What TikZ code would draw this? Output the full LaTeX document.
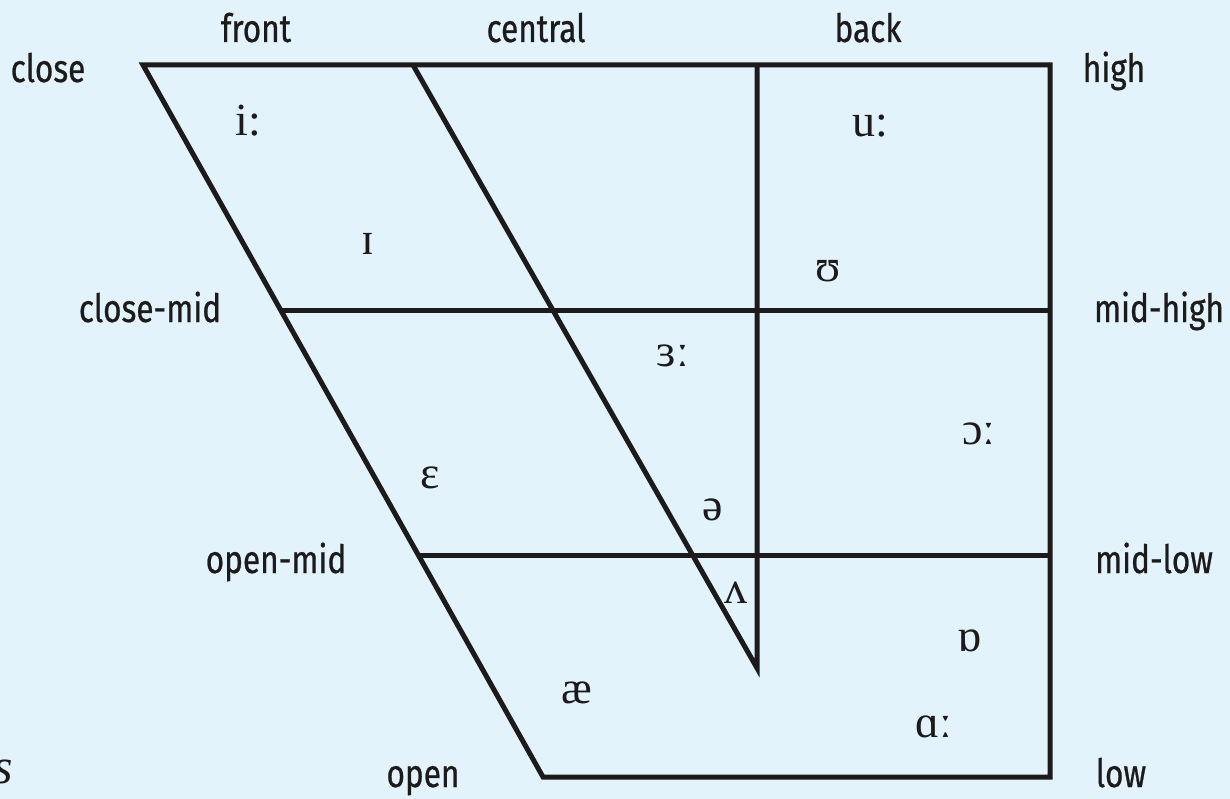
\documentclass[tikz,border=0pt]{standalone}
\usepackage{fontspec}
\setmainfont{Liberation Serif}
\newfontfamily\labfont[FakeStretch=0.81,FakeBold=0.6]{Fira Sans}
\newfontfamily\ipafont{Liberation Serif}
\definecolor{bgblue}{HTML}{E2F3FC}
\definecolor{inkc}{HTML}{1C1A1A}
\begin{document}
\begin{tikzpicture}[x=1pt,y=-1pt,
  chart/.style={draw=inkc,line width=5pt,line cap=butt,line join=miter},
  lab/.style={font=\labfont\fontsize{39}{44}\selectfont,text=inkc,inner sep=0pt,anchor=base},
  vow/.style={font=\ipafont\fontsize{46}{50}\selectfont,text=inkc,inner sep=0pt,anchor=base}]
\fill[bgblue] (0,0) rectangle (1230,799);
\useasboundingbox (0,0) rectangle (1230,799);
% corners
\coordinate (TL) at (143,65);
\coordinate (TC) at (413,65);
\coordinate (TB) at (757,65);
\coordinate (TR) at (1050,65);
\coordinate (BL) at (543,777);
\coordinate (BR) at (1050,777);
\coordinate (CM) at (281,310);
\coordinate (CMR) at (1050,310);
\coordinate (OM) at (418,555);
\coordinate (OMR) at (1050,555);
\coordinate (VB) at (757,668);
% frame
\draw[chart] (TL) -- (TR) -- (BR) -- (BL) -- cycle;
\draw[chart] (CM) -- (CMR);
\draw[chart] (OM) -- (OMR);
\draw[chart] (TC) -- (VB) -- (TB);
% labels
\node[lab] (lclose) at (48,82) {close};
\node[lab] (lfront) at (256,42) {front};
\node[lab] (lcentral) at (536,42) {central};
\node[lab] (lback) at (868,42) {back};
\node[lab] (lhigh) at (1114,82) {high};
\node[lab] (lclosemid) at (150,322) {close-mid};
\node[lab] (lmidhigh) at (1159,322) {mid-high};
\node[lab] (lopenmid) at (276,573) {open-mid};
\node[lab] (lmidlow) at (1154,573) {mid-low};
\node[lab] (lopen) at (423,787) {open};
\node[lab] (llow) at (1121,787) {low};
\node[font=\itshape\fontsize{50}{54}\selectfont,text=inkc,inner sep=0pt,anchor=base east] (ls) at (13,783) {s};
% vowels
\node[vow] (vi) at (248,136) {i:};
\node[vow] (vu) at (870,137) {u:};
\node[vow] (vI) at (368,255) {ɪ};
\node[vow] (vU) at (828,282) {ʊ};
\node[vow] (v3) at (673,366) {ɜː};
\node[vow] (vo) at (979,444) {ɔː};
\node[vow] (ve) at (430,488) {ɛ};
\node[vow] (vschwa) at (713,520) {ə};
\node[vow] (vV) at (736,603) {ʌ};
\node[vow] (vQ) at (970,651) {ɒ};
\node[vow] (vae) at (577,703) {æ};
\node[vow] (vA) at (934,737) {ɑː};
\end{tikzpicture}
\end{document}
